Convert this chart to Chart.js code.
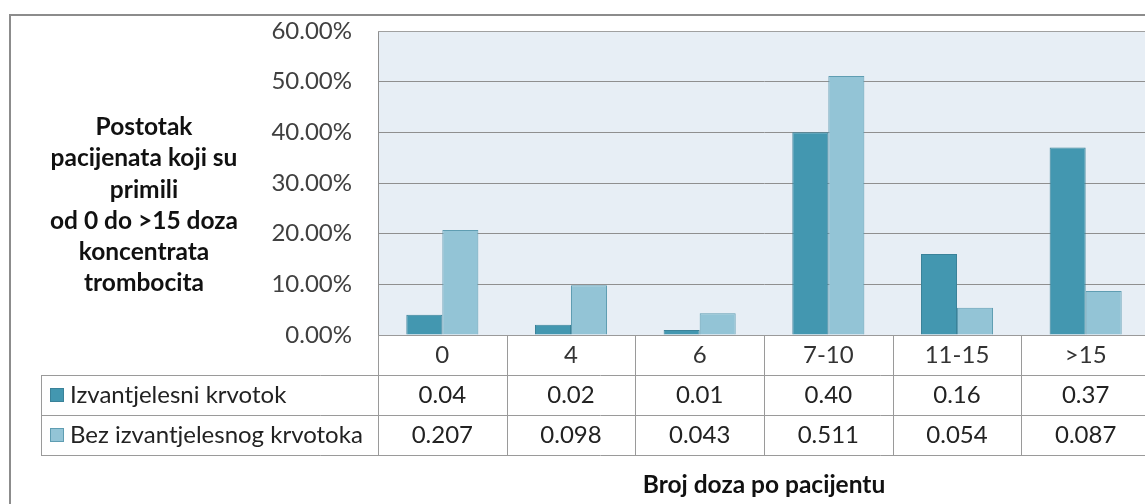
<!DOCTYPE html>
<html>
<head>
<meta charset="utf-8">
<script src="https://cdn.jsdelivr.net/npm/chart.js@4"></script>
<style>
  body { margin: 0; overflow: hidden; background: #fff; }
  #wrap { width: 1145px; height: 504px; overflow: hidden; }
</style>
</head>
<body>
<div id="wrap"><canvas id="dozeChart" width="1160" height="504"></canvas></div>
<script>
// data
const categories = ["0", "4", "6", "7-10", "11-15", ">15"];
const seriesNames = ["Izvantjelesni krvotok", "Bez izvantjelesnog krvotoka"];
const withBypass = [0.04, 0.02, 0.01, 0.40, 0.16, 0.37];
const withoutBypass = [0.207, 0.098, 0.043, 0.511, 0.054, 0.087];
const tableDecimals = [2, 3];
const yTitleLines = ["Postotak", "pacijenata koji su", "primili", "od 0 do >15 doza", "koncentrata", "trombocita"];
const xTitle = "Broj doza po pacijentu";

const fontName = "Lato, 'Open Sans', sans-serif";
const darkFill = "#4397b0";
const lightFill = "#93c4d6";
const lineGray = "#9a9a9a";

/* BACKGROUND, DATA TABLE AND TITLES */
const tablePlugin = {
  id: "dataTable",
  beforeDraw(chart) {
    const ctx = chart.ctx;
    const a = chart.chartArea;
    ctx.save();
    ctx.fillStyle = "#fff";
    ctx.fillRect(0, 0, chart.width, chart.height);
    // outer frame, cut off on the right and bottom like the original
    ctx.strokeStyle = "#8c8c8c";
    ctx.lineWidth = 2;
    ctx.strokeRect(10, 15, chart.width + 20, chart.height + 20);
    // plot area fill
    ctx.fillStyle = "#e7eef5";
    ctx.fillRect(a.left, a.top, a.right - a.left, a.bottom - a.top);
    ctx.restore();
  },
  afterDraw(chart) {
    const ctx = chart.ctx;
    const a = chart.chartArea;
    const x = chart.scales.x;
    const rowH = 40;
    const top = a.bottom;
    const bottom = top + rowH * 3;
    const colW = (x.right - x.left) / categories.length;
    const tableLeft = 41;

    ctx.save();
    ctx.strokeStyle = lineGray;
    ctx.lineWidth = 1;
    ctx.beginPath();
    // horizontal lines
    ctx.moveTo(a.left, top + 0.5);
    ctx.lineTo(chart.width, top + 0.5);
    for (let r = 1; r <= 3; r++) {
      ctx.moveTo(tableLeft, top + rowH * r + 0.5);
      ctx.lineTo(chart.width, top + rowH * r + 0.5);
    }
    // vertical lines
    ctx.moveTo(tableLeft + 0.5, top + rowH);
    ctx.lineTo(tableLeft + 0.5, bottom);
    for (let k = 0; k <= categories.length; k++) {
      const px = Math.round(x.left + k * colW) + 0.5;
      ctx.moveTo(px, top);
      ctx.lineTo(px, bottom);
    }
    ctx.stroke();

    // plot top border
    ctx.strokeStyle = "#a0a0a0";
    ctx.beginPath();
    ctx.moveTo(a.left, a.top + 0.5);
    ctx.lineTo(a.right, a.top + 0.5);
    ctx.stroke();

    // rows: legend key + values
    const rows = [withBypass, withoutBypass];
    ctx.font = "24px " + fontName;
    ctx.textBaseline = "middle";
    rows.forEach((vals, r) => {
      const cy = top + rowH * (r + 1) + rowH / 2;
      const ds = chart.data.datasets[r];
      ctx.fillStyle = ds.backgroundColor;
      ctx.strokeStyle = ds.borderColor;
      ctx.fillRect(50, cy - 7, 14, 14);
      ctx.strokeRect(50.5, cy - 6.5, 13, 13);
      ctx.fillStyle = "#222";
      ctx.textAlign = "left";
      ctx.fillText(seriesNames[r], 70, cy);
      ctx.textAlign = "center";
      vals.forEach((v, i) => {
        ctx.fillText(v.toFixed(tableDecimals[r]), x.getPixelForValue(i), cy);
      });
    });

    // axis titles
    ctx.font = "bold 24.5px " + fontName;
    ctx.fillStyle = "#111";
    ctx.textAlign = "center";
    yTitleLines.forEach((line, i) => {
      ctx.fillText(line, 144, 127 + i * 31.3);
    });
    ctx.fillText(xTitle, (a.left + a.right) / 2, 485);
    ctx.restore();
  },
};

new Chart("dozeChart", {
  type: "bar",
  data: {
    labels: categories,
    datasets: [
      {
        label: seriesNames[0],
        data: withBypass,
        backgroundColor: darkFill,
        borderColor: "#3a8299",
        borderWidth: 1,
      },
      {
        label: seriesNames[1],
        data: withoutBypass,
        backgroundColor: lightFill,
        borderColor: "#5f9db2",
        borderWidth: 1,
      },
    ],
  },
  options: {
    responsive: false,
    animation: false,
    categoryPercentage: 0.56,
    barPercentage: 1.0,
    layout: { padding: { top: 31, right: 10, left: 0, bottom: 0 } },
    plugins: {
      legend: { display: false },
      tooltip: { enabled: false },
    },
    scales: {
      x: {
        grid: { display: false, drawTicks: false },
        border: { display: false },
        ticks: {
          font: { family: fontName, size: 24 },
          color: "#333",
          padding: 6,
        },
        afterFit(scale) {
          scale.height = 169;
          scale.paddingLeft = 0;
          scale.paddingRight = 0;
        },
      },
      y: {
        min: 0,
        max: 0.6,
        grid: { color: "#8f8f8f", drawTicks: false },
        border: { display: true, color: "#8f8f8f" },
        ticks: {
          stepSize: 0.1,
          padding: 26,
          font: { family: fontName, size: 24 },
          color: "#404040",
          callback: (v) => (v * 100).toFixed(2) + "%",
        },
        afterFit(scale) {
          scale.width = 378;
          // keep the top label from pushing the plot down
          scale.paddingTop = 0;
          scale.paddingBottom = 0;
        },
      },
    },
  },
  plugins: [tablePlugin],
});
</script>
</body>
</html>
